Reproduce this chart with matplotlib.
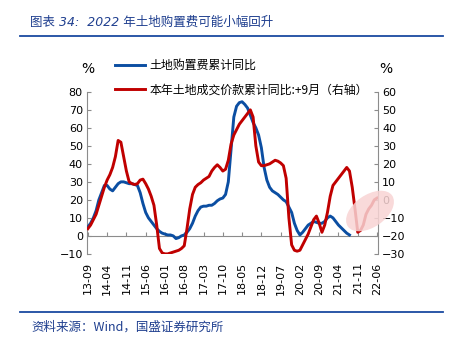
import matplotlib
matplotlib.use("Agg")
import matplotlib.pyplot as plt
from matplotlib.patches import Ellipse
from matplotlib.lines import Line2D
from matplotlib.transforms import IdentityTransform

plt.rcParams['font.family'] = ['DejaVu Sans', 'Noto Sans CJK SC']

# monthly, 2013-09 .. 2022-06
start_year, start_month = 2013, 9
n_months = 106

# 土地购置费累计同比 (left axis), 2013-09 .. 2021-08
blue = [5, 7, 10, 14, 20, 24, 28, 28, 26, 25, 27, 29, 30, 30, 29.5, 29,
        29, 28.5, 28, 24, 18, 13, 10, 8, 6, 4, 2.5, 1.5, 1, 0.5, 0.5, 0,
        -1.5, -1, 0, 0.5, 2, 4, 7, 11, 14, 16, 16.5, 16.5, 17, 17, 18, 19.5,
        20.5, 21, 23, 30, 48, 66, 72, 74, 74.5, 73, 71, 67, 63, 60, 56, 49,
        38, 31, 27, 25, 24, 23, 21.5, 20, 19, 16, 13, 7, 3, 0.5, 2, 4,
        6, 7, 8, 7.5, 7, 7, 8, 10, 11, 10, 8, 6, 4.5, 3, 1.5, 0.5]

# 本年土地成交价款累计同比:+9月 (right axis), 2013-09 .. 2022-06
red = [-16, -14, -11, -8, -3, 2, 7, 11, 14, 18, 24, 33, 32, 24, 16, 10,
       9, 8.5, 9, 11, 11.5, 9, 6, 2, -3, -14, -27, -29.5, -30, -30, -29.5, -29,
       -28.5, -28, -27, -25.5, -16, -5, 3, 7, 8.5, 9.5, 11, 12, 13, 16, 18, 19.5,
       18, 16, 17, 22, 31, 36, 39, 42, 44, 46, 48, 50, 46, 30, 21, 19,
       19, 19.5, 20, 21, 22, 21.5, 20.5, 19, 12, -10, -25, -28, -28.5, -28,
       -25, -22, -19, -15, -11, -9, -13, -18, -14, -7, 2, 8, 10, 12,
       14, 16, 18, 16, 7, -5, -18, -17, -14, -8, -5, -3, 0, 1]

labels = []
for i in range(n_months):
    y = start_year + (start_month - 1 + i) // 12
    m = (start_month - 1 + i) % 12 + 1
    labels.append("%02d-%02d" % (y % 100, m))

blue_c = "#0b4ea2"
red_c = "#c00000"
grey = "#8c8c8c"
title_c = "#1f3f8f"

fig = plt.figure(figsize=(4.58, 3.44), dpi=100)
ax = fig.add_axes([0.190, 0.262, 0.635, 0.471])
ax2 = ax.twinx()

# pink highlight round the latest red values (pixel coords)
ell = Ellipse((370, 344 - 211), 54, 32, angle=35, transform=IdentityTransform(),
              facecolor="#f8d4d4", edgecolor="none", alpha=0.85, zorder=0)
fig.patches.append(ell)

ax.plot(range(len(blue)), blue, color=blue_c, lw=2.1, zorder=3)
ax2.plot(range(len(red)), red, color=red_c, lw=2.1, zorder=3)

for a in (ax, ax2):
    a.spines['top'].set_visible(False)
    a.patch.set_visible(False)
ax.spines['right'].set_visible(False)
ax2.spines['left'].set_visible(False)
ax2.spines['bottom'].set_visible(False)
ax.spines['left'].set_color(grey)
ax2.spines['right'].set_color(grey)
ax.spines['bottom'].set_position(('data', 0))
ax.spines['bottom'].set_color(grey)

ax.set_xlim(-0.3, n_months - 1 + 0.3)
ax.set_ylim(-10, 80)
ax2.set_ylim(-30, 60)
ax.set_yticks(range(-10, 81, 10))
ax2.set_yticks(range(-30, 61, 10))

ticks = list(range(0, n_months, 7))
ax.set_xticks(ticks)
ax.set_xticklabels([labels[i] for i in ticks])

ax.tick_params(axis='y', direction='in', length=3, color=grey, labelsize=8, pad=3)
ax2.tick_params(axis='y', direction='in', length=3, color=grey, labelsize=8, pad=3)
ax.tick_params(axis='x', direction='in', length=3, color=grey, labelsize=8,
               pad=19, labelrotation=90)

fig.text(0.192, 0.80, "%", fontsize=10, ha="center", va="center")
fig.text(0.843, 0.80, "%", fontsize=10, ha="center", va="center")

handles = [Line2D([], [], color=blue_c, lw=2.1),
           Line2D([], [], color=red_c, lw=2.1)]
fig.legend(handles, ["土地购置费累计同比", "本年土地成交价款累计同比:+9月（右轴）"],
           loc="upper left", bbox_to_anchor=(0.252, 0.828), frameon=False,
           prop={'family': ['Noto Sans CJK SC'], 'size': 8.6},
           handlelength=2.5, handletextpad=0.35, labelspacing=0.95,
           borderpad=0, borderaxespad=0)

fig.text(0.066, 0.935, "图表 34:  2022 年土地购置费可能小幅回升", fontsize=9,
         style="italic", color=title_c, ha="left", va="center",
         family=['DejaVu Sans', 'Noto Sans CJK SC'])
fig.add_artist(Line2D([0.044, 0.967], [0.895, 0.895], color="#1a4aa0", lw=1.3))
fig.add_artist(Line2D([0.044, 0.967], [0.093, 0.093], color="#1a4aa0", lw=1.3))
fig.text(0.068, 0.049, "资料来源：Wind，国盛证券研究所", fontsize=9,
         style="italic", color=title_c, ha="left", va="center",
         family=['Noto Sans CJK SC', 'DejaVu Sans'])

fig.savefig("out.png", dpi=100)
